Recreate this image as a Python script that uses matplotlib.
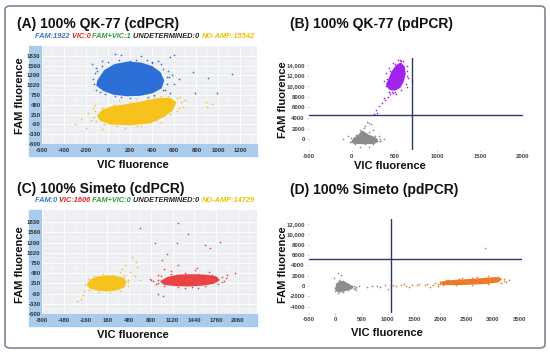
import matplotlib
matplotlib.use("Agg")
import matplotlib.pyplot as plt
from matplotlib.patches import Rectangle, FancyBboxPatch
from matplotlib.ticker import AutoMinorLocator

plt.rcParams["font.family"] = ["Liberation Sans", "DejaVu Sans"]

W, H = 550, 353

# colours
BLUE = "#2c6fd6"
YELLOW = "#f6c21c"
RED = "#e94343"
ORANGE = "#ec7a2c"
GREY = "#8c8c8c"
PURPLE = "#a223f0"
NAVY = "#2b3a6b"
BAND = "#a9cbee"

# ---------------- (A) 100% QK-77 cdPCR ----------------
a_xticks = [-600, -400, -200, 0, 200, 400, 600, 800, 1000, 1200]
a_yticks = [-600, -330, -60, 210, 480, 750, 1020, 1290, 1560, 1830]
a_counts = [("FAM:1922 ", "#3b74c9"), ("VIC:0 ", "#e02020"), ("FAM+VIC:1 ", "#2f9a3a"),
            ("UNDETERMINED:0 ", "#222222"), ("NO-AMP:15542", "#f2bd00")]

a_blue_core_x = [-90, -30, 60, 180, 300, 400, 470, 500, 480, 400, 290, 170, 50, -40, -100]
a_blue_core_y = [1150, 1420, 1580, 1650, 1620, 1520, 1360, 1150, 950, 820, 750, 740, 780, 880, 1020]
a_blue_x = [-150, -120, -110, 60, 120, 300, 450, 560, 600, 582, 645, 520, 560, 773, 909,
            1127, 791, 990, 480, -60, 350, 200, -30, 120, 420, 600, 540, 530, 400, -110,
            -60, 0, 100, 250, 400, 500, 550, 530, 500, 360, 200, 60, -70, -130, -140, -100]
a_blue_y = [1600, 1350, 900, 1880, 1860, 1820, 1700, 1800, 1840, 1290, 1180, 900, 800, 1371, 1209,
            1317, 804, 804, 1600, 1700, 1720, 1700, 780, 700, 760, 1050, 1400, 1250, 1650, 1500,
            1550, 1650, 1710, 1720, 1640, 1480, 1250, 1050, 880, 700, 680, 720, 830, 1050, 1200, 1400]

a_yel_core_x = [-90, -50, 40, 180, 320, 450, 560, 610, 580, 500, 380, 200, 20, -70]
a_yel_core_y = [180, 320, 420, 480, 560, 640, 650, 540, 340, 160, -10, -60, -40, 60]
a_yel_x = [-300, -250, -180, -140, -200, 650, 700, 890, 900, 940, -120, 100, 250, 680,
           -60, 150, 420, 300, 620, 540, -160, 480,
           -130, -120, -60, 50, 200, 350, 480, 620, 660, 640, 560, 430, 260, 80, -40, -110]
a_yel_y = [-40, 90, 250, 380, -150, 700, 620, 560, 430, 500, 480, 620, 650, 420,
           -180, -150, 720, -130, 300, 720, 50, 0,
           150, 300, 400, 480, 560, 640, 720, 680, 560, 400, 220, 60, -100, -100, -60, 30]

# ---------------- (B) 100% QK-77 pdPCR ----------------
b_xticks = [-500, 0, 500, 1000, 1500, 2000]
b_yticks = [0, 2000, 4000, 6000, 8000, 10000, 12000, 14000]
b_thresh_fam = 4600
b_thresh_vic = 700

b_purple_core_x = [430, 470, 520, 570, 610, 620, 600, 560, 500, 450, 420, 410]
b_purple_core_y = [11000, 12600, 13800, 14300, 13600, 12300, 11000, 9800, 9300, 9400, 9900, 10400]
b_purple_x = [450, 420, 390, 350, 320, 280, 300, 260, 380, 480, 520, 640, 660, 650, 600,
              540, 480, 400, 380, 560, 440, 700, 470, 430,
              400, 410, 450, 500, 580, 640, 650, 630, 580, 500, 430]
b_purple_y = [8500, 8000, 7400, 6800, 6200, 5500, 5000, 4700, 7800, 8800, 8600, 9800, 11500, 12800, 14700,
              14900, 14400, 12500, 11000, 15000, 13500, 11000, 9000, 8900,
              10000, 11300, 12900, 14200, 14700, 13800, 12000, 10500, 9300, 8900, 9000]

b_grey_core_x = [0, 30, 80, 120, 160, 200, 250, 290, 300, 260, 150, 30]
b_grey_core_y = [-500, 200, 700, 1500, 1100, 700, 400, 0, -400, -700, -750, -700]
b_grey_x = [160, 200, 180, 220, 140, 380, 330, -100, 250, 100, 200, -40, 320,
            -20, -10, 50, 100, 200, 270, 330, 330, 250, 150, 40]
b_grey_y = [2500, 3000, 3300, 2800, 2200, 0, -300, 100, 1800, -1400, -1500, 700, 600,
            -500, 200, 800, 1700, 1400, 600, 100, -400, -900, -950, -900]

# ---------------- (C) 100% Simeto cdPCR ----------------
c_xticks = [-800, -480, -160, 160, 480, 800, 1120, 1440, 1760, 2080]
c_xlabels = ["-800", "-480", "-160", "160", "480", "800", "1120", "1440", "1760", "2060"]
c_yticks = a_yticks
c_counts = [("FAM:0 ", "#3b74c9"), ("VIC:1606 ", "#e02020"), ("FAM+VIC:0 ", "#2f9a3a"),
            ("UNDETERMINED:0 ", "#222222"), ("NO-AMP:14729", "#f2bd00")]

c_yel_core_x = [-130, -80, 20, 160, 300, 400, 430, 400, 300, 160, 20, -90]
c_yel_core_y = [180, 300, 370, 400, 380, 330, 230, 120, 50, 20, 40, 90]
c_yel_x = [-280, -230, -200, 500, 600, 560, 420, 520, 640, 380, 470, -180, 350, 580,
           -170, -130, -40, 100, 250, 400, 470, 460, 350, 200, 40, -110]
c_yel_y = [-250, -200, -100, 500, 650, 400, 700, 900, 300, 600, 250, 0, 520, 780,
           180, 320, 400, 450, 440, 400, 300, 150, 20, -30, -10, 40]

c_red_core_x = [950, 1050, 1200, 1400, 1600, 1750, 1800, 1720, 1550, 1350, 1150, 1000]
c_red_core_y = [260, 360, 420, 430, 420, 380, 300, 220, 170, 150, 160, 190]
c_red_x = [636, 1200, 1346, 1820, 858, 1183, 1598, 1672, 1035, 961, 1200, 784, 828, 902,
           976, 2040, 1923, 1480, 800, 870, 900, 1900, 1850, 1100, 1450, 1650, 1300, 1500, 1000,
           900, 950, 1100, 1300, 1500, 1700, 1840, 1870, 1780, 1600, 1400, 1200, 1000, 900]
c_red_y = [1670, 1800, 1514, 1305, 1279, 1280, 1227, 1150, 990, 835, 700, 314, 260, -78,
           -130, 496, 444, 625, 300, 200, 420, 350, 250, 550, 560, 520, 100, 80, 600,
           300, 400, 460, 480, 470, 440, 380, 280, 190, 130, 110, 120, 150, 220]

# ---------------- (D) 100% Simeto pdPCR ----------------
d_xticks = [-500, 0, 500, 1000, 1500, 2000, 2500, 3000, 3500]
d_yticks = [-4000, -2000, 0, 2000, 4000, 6000, 8000, 10000, 12000]
d_thresh_fam = 5200
d_thresh_vic = 1050

d_grey_core_x = [20, 40, 100, 180, 260, 330, 320, 250, 160, 80, 30, 10]
d_grey_core_y = [-200, 500, 900, 700, 200, -100, -400, -600, -900, -1100, -900, -500]
d_grey_x = [2850, 400, 600, 800, 1000, -20, 60, 100, 450, 700, 850, 950, 380,
            -10, 10, 70, 150, 250, 350, 400, 350, 250, 150, 60, 0]
d_grey_y = [7400, -700, -200, 100, -500, 1500, 2500, 2200, 0, 0, -100, 200, -300,
            -300, 500, 1100, 900, 400, 0, -200, -600, -800, -1200, -1300, -900]

d_orange_core_x = [2000, 2200, 2500, 2800, 3050, 3150, 3100, 2900, 2600, 2300, 2050]
d_orange_core_y = [700, 1000, 1200, 1400, 1600, 1400, 900, 600, 450, 350, 350]
d_orange_x = [1100, 1150, 1250, 1350, 1450, 1550, 1600, 1700, 1750, 1850, 1900, 1950, 2000,
              1300, 1400, 3200, 3250, 3300, 2400, 2700, 2900, 2150, 1800, 1050,
              1950, 2100, 2350, 2600, 2850, 3100, 3200, 3150, 2900, 2600, 2300, 2050]
d_orange_y = [200, 0, 300, 100, 250, 150, 400, 200, 500, 300, 600, 100, 450,
              500, -100, 1000, 800, 1100, 1600, 1800, 1900, 1200, -100, 100,
              500, 1100, 1300, 1500, 1650, 1750, 1300, 700, 400, 250, 200, 200]


def px_rect(l, t, r, b):
    return [l / W, 1 - b / H, (r - l) / W, (b - t) / H]


def fmt_k(v):
    return f"{v:,}" if abs(v) >= 10000 else str(v)


def cluster(ax, core_x, core_y, xs, ys, color):
    ax.fill(core_x, core_y, color=color, ec=color, lw=1.2, joinstyle="round", zorder=2)
    ax.scatter(xs, ys, s=1.5, color=color, lw=0, zorder=3)


def cd_axes(box, xlim, ylim, xticks, xlabels, yticks):
    l, t, r, b = box
    ax = fig.add_axes(px_rect(l, t, r, b))
    fig.patches.append(Rectangle(((l - 13) / W, 1 - (b + 12) / H), 13 / W, (b + 12 - t) / H,
                                 transform=fig.transFigure, color=BAND, zorder=-1))
    fig.patches.append(Rectangle((l / W, 1 - (b + 12) / H), (r - l) / W, 12 / H,
                                 transform=fig.transFigure, color=BAND, zorder=-1))
    ax.set_facecolor("#eceef2")
    ax.set_xlim(*xlim)
    ax.set_ylim(*ylim)
    ax.set_xticks(xticks)
    ax.set_xticklabels(xlabels, fontsize=4.3, fontweight="bold", color="#333333")
    ax.set_yticks(yticks)
    ax.set_yticklabels([str(v) for v in yticks], fontsize=4.3, fontweight="bold", color="#333333")
    ax.xaxis.set_minor_locator(AutoMinorLocator(2))
    ax.yaxis.set_minor_locator(AutoMinorLocator(2))
    ax.tick_params(which="both", length=0)
    ax.tick_params(axis="x", pad=3)
    ax.tick_params(axis="y", pad=1)
    ax.grid(which="major", color="white", lw=0.6)
    ax.grid(which="minor", color="white", lw=0.3)
    ax.set_axisbelow(True)
    for s in ax.spines.values():
        s.set_visible(False)
    return ax


def pd_axes(box, xlim, ylim, xticks, yticks, hline, vline):
    ax = fig.add_axes(px_rect(*box))
    ax.set_xlim(*xlim)
    ax.set_ylim(*ylim)
    ax.set_xticks(xticks)
    ax.set_xticklabels([str(v) for v in xticks], fontsize=4.3, fontweight="bold", color="#444444")
    ax.set_yticks(yticks)
    ax.set_yticklabels([fmt_k(v) for v in yticks], fontsize=4.3, fontweight="bold", color="#444444")
    ax.tick_params(length=1.5, width=0.5, color="#bbbbbb", pad=1.5)
    for s in ax.spines.values():
        s.set_visible(False)
    ax.axhline(hline, color=NAVY, lw=1.0, zorder=4)
    ax.axvline(vline, color=NAVY, lw=1.0, zorder=4)
    return ax


def color_line(ax, x_px, y_px, parts):
    s, c = parts[0]
    t = ax.text(x_px / W, 1 - y_px / H, s, color=c, transform=fig.transFigure,
                fontsize=5.3, fontweight="bold", style="italic", va="center", ha="left")
    for s, c in parts[1:]:
        t = ax.annotate(s, xy=(1, 0), xycoords=t, va="bottom", ha="left", color=c,
                        fontsize=5.3, fontweight="bold", style="italic", annotation_clip=False)


def label(x_px, y_px, s, size=8, rot=0, ha="center"):
    fig.text(x_px / W, 1 - y_px / H, s, fontsize=size, fontweight="bold",
             rotation=rot, ha=ha, va="center", color="#111111")


fig = plt.figure(figsize=(W / 100, H / 100), dpi=100)

# outer frame
fig.patches.append(FancyBboxPatch((5 / W, 5 / H), 540 / W, 342 / H,
                                  boxstyle="round,pad=0,rounding_size=0.01",
                                  transform=fig.transFigure, fill=False,
                                  ec="#7d8794", lw=1.2, zorder=-2))

# (A)
axA = cd_axes((42, 46, 257, 144), (-600, 1350), (-600, 2100), a_xticks,
              [str(v) for v in a_xticks], a_yticks)
cluster(axA, a_yel_core_x, a_yel_core_y, a_yel_x, a_yel_y, YELLOW)
cluster(axA, a_blue_core_x, a_blue_core_y, a_blue_x, a_blue_y, BLUE)
color_line(axA, 35, 37, a_counts)
label(17, 24, "(A) 100% QK-77 (cdPCR)", size=10, ha="left")
label(20, 96, "FAM fluorence", rot=90)
label(133, 165, "VIC fluorence")

# (B)
axB = pd_axes((309, 58, 523, 150), (-500, 2000), (-2000, 15300), b_xticks, b_yticks,
              b_thresh_fam, b_thresh_vic)
cluster(axB, b_grey_core_x, b_grey_core_y, b_grey_x, b_grey_y, GREY)
cluster(axB, b_purple_core_x, b_purple_core_y, b_purple_x, b_purple_y, PURPLE)
label(290, 24, "(B) 100% QK-77 (pdPCR)", size=10, ha="left")
label(283, 100, "FAM fluorence", rot=90)
label(390, 166, "VIC fluorence")

# (C)
axC = cd_axes((42, 210, 257, 314), (-800, 2360), (-600, 2150), c_xticks, c_xlabels, c_yticks)
cluster(axC, c_yel_core_x, c_yel_core_y, c_yel_x, c_yel_y, YELLOW)
cluster(axC, c_red_core_x, c_red_core_y, c_red_x, c_red_y, RED)
color_line(axC, 35, 201, c_counts)
label(17, 189, "(C) 100% Simeto (cdPCR)", size=10, ha="left")
label(20, 265, "FAM fluorence", rot=90)
label(133, 335, "VIC fluorence")

# (D)
axD = pd_axes((309, 219, 522, 313), (-500, 3550), (-5200, 13000), d_xticks, d_yticks,
              d_thresh_fam, d_thresh_vic)
cluster(axD, d_grey_core_x, d_grey_core_y, d_grey_x, d_grey_y, GREY)
cluster(axD, d_orange_core_x, d_orange_core_y, d_orange_x, d_orange_y, ORANGE)
label(290, 190, "(D) 100% Simeto (pdPCR)", size=10, ha="left")
label(283, 265, "FAM fluorence", rot=90)
label(387, 333, "VIC fluorence")

fig.savefig("out.png", dpi=100)
